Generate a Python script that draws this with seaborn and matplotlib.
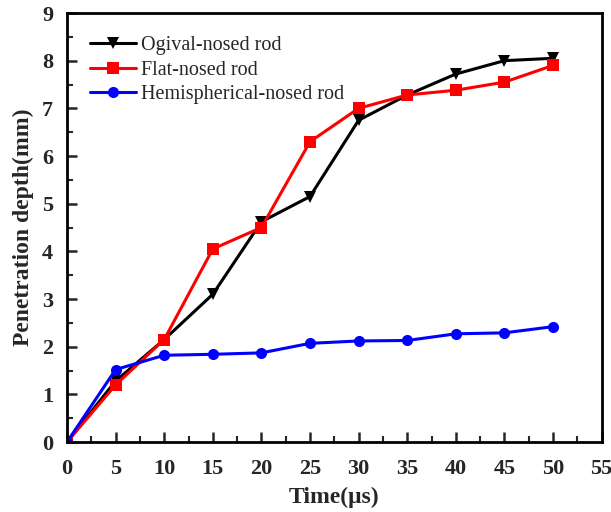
import numpy as np
import pandas as pd
import matplotlib
matplotlib.use("Agg")
import matplotlib.pyplot as plt
from matplotlib.ticker import MultipleLocator
import seaborn as sns

# --- Daten ---
time_us = [0, 5, 10, 15, 20, 25, 30, 35, 40, 45, 50]
ogival = [0, 1.28, 2.15, 3.1, 4.62, 5.15, 6.75, 7.28, 7.72, 8.0, 8.05]
flat = [0, 1.2, 2.15, 4.05, 4.5, 6.3, 7.0, 7.28, 7.38, 7.55, 7.9]
hemi = [0, 1.52, 1.82, 1.84, 1.87, 2.07, 2.12, 2.13, 2.27, 2.29, 2.42]

labels = ["Ogival-nosed rod", "Flat-nosed rod", "Hemispherical-nosed rod"]
colors = ["black", "red", "blue"]
markers = ["v", "s", "o"]

df = pd.concat([
    pd.DataFrame({"time": time_us, "depth": vals, "rod": lab})
    for vals, lab in zip([ogival, flat, hemi], labels)
], ignore_index=True)

sns.set_theme(style="ticks")
plt.rcParams["font.family"] = ["Liberation Serif", "DejaVu Serif"]

fig = plt.figure(figsize=(6.11, 5.12), dpi=100)
ax = fig.add_axes([0.1097, 0.1367, 0.8749, 0.8379])

sns.lineplot(data=df, x="time", y="depth", hue="rod", style="rod",
             palette=dict(zip(labels, colors)),
             markers=dict(zip(labels, markers)),
             dashes=False, linewidth=2.2, markersize=8,
             markeredgewidth=0, ax=ax)

ax.set_xlim(0, 55)
ax.set_ylim(0, 9)
ax.xaxis.set_major_locator(MultipleLocator(5))
ax.xaxis.set_minor_locator(MultipleLocator(2.5))
ax.yaxis.set_major_locator(MultipleLocator(1))
ax.yaxis.set_minor_locator(MultipleLocator(0.5))
ax.tick_params(which="major", direction="in", length=7, width=1.8,
               labelsize=16)
ax.tick_params(axis="x", which="major", pad=12)
ax.tick_params(axis="y", which="major", pad=10)
ax.tick_params(which="minor", direction="in", length=4, width=1.5)
for lbl in ax.get_xticklabels() + ax.get_yticklabels():
    lbl.set_fontweight("bold")
for sp in ax.spines.values():
    sp.set_linewidth(2)
    sp.set_color("black")

ax.set_xlabel("Time(μs)", fontsize=17, fontweight="bold", labelpad=6)
ax.set_ylabel("Penetration depth(mm)", fontsize=17, fontweight="bold", labelpad=6)

leg = ax.legend(loc="upper left", frameon=False, fontsize=14.5,
                handlelength=2.3, handletextpad=0.25, labelspacing=0.28,
                borderaxespad=0.2, bbox_to_anchor=(0.02, 0.975))
leg.set_title(None)

fig.savefig("out.png", dpi=100)
